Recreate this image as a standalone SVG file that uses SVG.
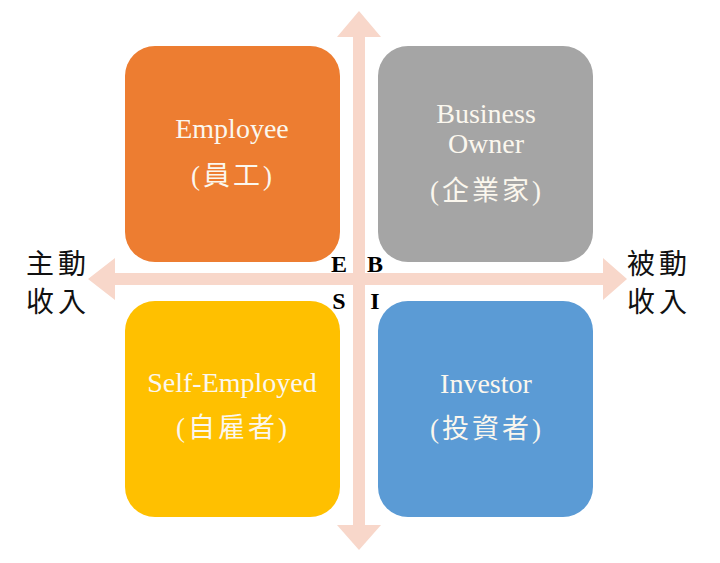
<svg xmlns="http://www.w3.org/2000/svg" width="720" height="563" viewBox="0 0 720 563">
<style>
.box{stroke:none}
.lbl{font-family:"Liberation Serif","Times New Roman",serif;font-size:28px;fill:#FBF7EE;text-anchor:middle}
.cjk{font-family:"Liberation Serif","Noto Sans CJK TC",serif;font-size:27px;fill:#FBF7EE;text-anchor:middle;letter-spacing:3px}
.q{font-family:"Liberation Serif","Times New Roman",serif;font-size:24px;font-weight:bold;fill:#000;text-anchor:middle}
.side{font-family:"Noto Sans CJK TC",sans-serif;font-size:28px;fill:#111;letter-spacing:4px}
.axis{fill:#F8D7CA}
</style>
<rect width="720" height="563" fill="#fff"/>
<g id="connectors">
<polygon class="axis" points="353,37 337,37 359,11 381,37 365,37 365,525 381,525 359,550 337,525 353,525"/>
<polygon class="axis" points="115,273 115,258 88,279 115,300 115,285 603,285 603,300 627,279 603,258 603,273"/>
</g>
<g id="employee">
<rect class="box" x="125" y="46" width="215" height="216" rx="30" fill="#ED7D31"/>
<text class="lbl" x="232" y="138">Employee</text>
<text class="cjk" x="233" y="185">(員工)</text>
</g>
<g id="business-owner">
<rect class="box" x="378" y="46" width="215" height="216" rx="30" fill="#A5A5A5"/>
<text class="lbl" x="486" y="123">Business</text>
<text class="lbl" x="486" y="153">Owner</text>
<text class="cjk" x="487" y="200">(企業家)</text>
</g>
<g id="self-employed">
<rect class="box" x="125" y="301" width="215" height="216" rx="30" fill="#FFC000"/>
<text class="lbl" x="232" y="392">Self-Employed</text>
<text class="cjk" x="233" y="437">(自雇者)</text>
</g>
<g id="investor">
<rect class="box" x="378" y="301" width="215" height="216" rx="30" fill="#5B9BD5"/>
<text class="lbl" x="486" y="393">Investor</text>
<text class="cjk" x="487" y="438">(投資者)</text>
</g>
<g id="quadrant-letters">
<text class="q" x="339" y="272">E</text>
<text class="q" x="375" y="272">B</text>
<text class="q" x="339" y="309">S</text>
<text class="q" x="375" y="309">I</text>
</g>
<g id="active-income">
<text class="side" x="26" y="274">主動</text>
<text class="side" x="26" y="312">收入</text>
</g>
<g id="passive-income">
<text class="side" x="627" y="274">被動</text>
<text class="side" x="627" y="312">收入</text>
</g>
</svg>
